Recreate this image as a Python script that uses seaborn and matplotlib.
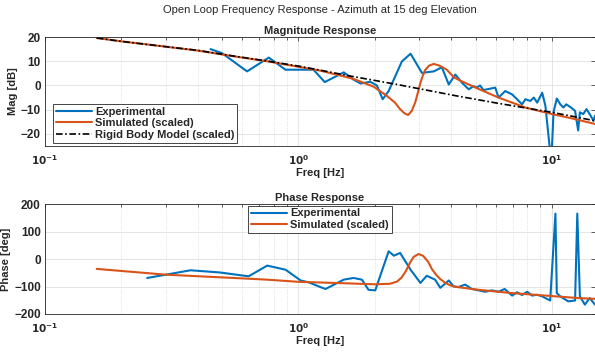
import numpy as np
import pandas as pd
import matplotlib
matplotlib.use("Agg")
import matplotlib.pyplot as plt
import seaborn as sns
from matplotlib.ticker import FixedLocator, FuncFormatter, LogLocator, NullFormatter

# ---------------- data ----------------
exp_mag_f = [0.45, 0.50, 0.627, 0.764, 0.889, 1.146, 1.27, 1.51, 1.65, 1.76, 1.92, 2.04, 2.15, 2.27,
             2.56, 2.77, 3.07, 3.42, 3.68, 3.92, 4.16, 4.42, 4.70, 4.91, 5.06, 5.21, 5.37, 5.98,
             6.16, 6.55, 6.97, 7.29, 7.63, 7.86, 8.23, 8.49, 8.75, 9.16, 9.43, 9.95, 10.15, 10.46,
             10.8, 11.1, 11.4, 11.9, 12.35, 12.7, 12.9, 13.3, 13.7, 14.1, 14.6, 14.8]
exp_mag_db = [15.0, 13.3, 5.8, 11.5, 6.5, 6.5, 1.4, 5.4, 2.4, 0.8, 1.5, 0.0, -5.7, -2.3,
              9.9, 13.1, 5.2, 5.8, 7.5, 0.4, 4.5, 1.1, -1.6, -0.3, -0.9, 0.0, -1.9, -0.9,
              -5.0, -2.3, -3.7, -5.7, -7.8, -5.7, -6.4, -5.0, -7.1, -3.0, -8.4, -32.0, -11.1, -5.4,
              -7.8, -9.1, -7.8, -9.1, -10.5, -18.6, -11.1, -11.8, -9.8, -11.8, -14.6, -12.5]

sim_mag_f = [0.16, 0.2, 0.3, 0.4, 0.55, 0.75, 1.0, 1.22, 1.45, 1.65, 1.98, 2.24, 2.4, 2.52, 2.62,
             2.71, 2.8, 2.89, 2.96, 3.03, 3.1, 3.17, 3.28, 3.42, 3.6, 3.85, 4.1, 4.35, 5.0, 6.16,
             7.85, 10.0, 12.0, 14.8]
sim_mag_db = [19.6, 18.2, 16.0, 14.4, 12.1, 10.0, 7.7, 6.1, 4.2, 2.7, -0.5, -4.4, -7.0, -9.8, -11.5,
              -12.2, -10.5, -7.0, -3.0, 1.1, 4.2, 6.5, 8.2, 8.9, 8.2, 6.5, 3.4, 2.0, -0.9, -5.0,
              -9.1, -11.8, -13.6, -15.9]

rb_mag_f = [0.16, 0.2, 0.3, 0.4, 0.55, 0.75, 1.0, 1.22, 1.6, 2.45, 4.2, 6.0, 8.0, 10.0, 12.0, 14.8]
rb_mag_db = [19.6, 18.2, 16.0, 14.5, 12.2, 10.1, 8.0, 6.3, 3.9, 0.4, -4.3, -7.2, -9.4, -11.1, -12.7, -14.6]

exp_ph_f = [0.253, 0.30, 0.375, 0.49, 0.636, 0.753, 0.89, 1.02, 1.10, 1.22, 1.28, 1.51, 1.65, 1.78,
            1.89, 2.01, 2.27, 2.38, 2.52, 2.77, 3.03, 3.21, 3.46, 3.63, 3.92, 4.1, 4.28, 4.55,
            4.83, 5.14, 5.46, 5.8, 6.16, 6.51, 6.97, 7.29, 7.63, 7.99, 8.36, 8.75, 9.16, 9.43,
            9.85, 10.33, 10.46, 10.8, 11.6, 12.35, 12.6, 12.9, 13.5, 14.1, 14.8]
exp_ph_deg = [-69, -57, -41, -49, -63, -24, -39, -78, -85, -102, -109, -75, -69, -75,
              -112, -114, 28, 12, 22, -39, -87, -61, -75, -105, -78, -100, -102, -93,
              -109, -114, -119, -114, -119, -109, -133, -121, -131, -119, -133, -130, -136, -142,
              -151, 165, -124, -136, -154, -151, 165, -136, -166, -142, -166]

sim_ph_f = [0.16, 0.3, 0.556, 0.75, 1.0, 1.5, 2.0, 2.3, 2.45, 2.55, 2.65, 2.75, 2.85, 2.98, 3.1,
            3.25, 3.37, 3.5, 3.63, 3.8, 4.0, 4.23, 5.14, 6.97, 9.43, 12.7, 14.8]
sim_ph_deg = [-36, -57, -69, -75, -83, -88, -92, -90, -82, -68, -45, -15, 8, 18, 12,
              -10, -38, -58, -73, -87, -97, -102, -112, -124, -133, -142, -145]

labels_mag = ["Experimental", "Simulated (scaled)", "Rigid Body Model (scaled)"]
labels_ph = ["Experimental", "Simulated (scaled)"]

# ---------------- style ----------------
sns.set_theme(style="white")
plt.rcParams["font.family"] = ["Liberation Sans", "DejaVu Sans"]
plt.rcParams["axes.linewidth"] = 0.6

BLUE = "#0072BD"
ORANGE = "#D95319"

fig = plt.figure(figsize=(5.95, 3.55), dpi=100)
ax1 = fig.add_axes([45 / 595, 1 - 146 / 355, 1 - 45 / 595, 109 / 355])
ax2 = fig.add_axes([45 / 595, 1 - 314 / 355, 1 - 45 / 595, 110 / 355])

df_mag = pd.concat([
    pd.DataFrame({"f": exp_mag_f, "v": exp_mag_db, "s": labels_mag[0]}),
    pd.DataFrame({"f": sim_mag_f, "v": sim_mag_db, "s": labels_mag[1]}),
    pd.DataFrame({"f": rb_mag_f, "v": rb_mag_db, "s": labels_mag[2]}),
])
df_ph = pd.concat([
    pd.DataFrame({"f": exp_ph_f, "v": exp_ph_deg, "s": labels_ph[0]}),
    pd.DataFrame({"f": sim_ph_f, "v": sim_ph_deg, "s": labels_ph[1]}),
])

sns.lineplot(data=df_mag[df_mag.s == labels_mag[0]], x="f", y="v", color=BLUE, lw=1.5,
             sort=False, estimator=None, ax=ax1, label=labels_mag[0])
sns.lineplot(data=df_mag[df_mag.s == labels_mag[1]], x="f", y="v", color=ORANGE, lw=1.5,
             sort=False, estimator=None, ax=ax1, label=labels_mag[1])
rb = sns.lineplot(data=df_mag[df_mag.s == labels_mag[2]], x="f", y="v", color="black", lw=1.2,
                  sort=False, estimator=None, ax=ax1, label=labels_mag[2])
ax1.lines[-1].set_dashes([4, 1.5, 1, 1.5])

sns.lineplot(data=df_ph[df_ph.s == labels_ph[0]], x="f", y="v", color=BLUE, lw=1.5,
             sort=False, estimator=None, ax=ax2, label=labels_ph[0])
sns.lineplot(data=df_ph[df_ph.s == labels_ph[1]], x="f", y="v", color=ORANGE, lw=1.5,
             sort=False, estimator=None, ax=ax2, label=labels_ph[1])


def fmt_log(v, pos):
    e = int(round(np.log10(v)))
    return r"$\mathbf{10^{%d}}$" % e


for ax, ylim, yt, ylab, title in [
    (ax1, (-25, 20), [-20, -10, 0, 10, 20], "Mag [dB]", "Magnitude Response"),
    (ax2, (-200, 200), [-200, -100, 0, 100, 200], "Phase [deg]", "Phase Response"),
]:
    ax.set_xscale("log")
    ax.set_xlim(0.1, 14.8)
    ax.set_ylim(*ylim)
    ax.yaxis.set_major_locator(FixedLocator(yt))
    ax.xaxis.set_major_locator(LogLocator(base=10, numticks=10))
    ax.xaxis.set_minor_locator(LogLocator(base=10, subs=np.arange(2, 10), numticks=20))
    ax.xaxis.set_major_formatter(FuncFormatter(fmt_log))
    ax.xaxis.set_minor_formatter(NullFormatter())
    ax.grid(True, which="major", color="#e0e0e0", lw=0.6, ls="-")
    ax.grid(True, which="minor", axis="x", color="#d4d4d4", lw=0.6, ls=":")
    ax.set_axisbelow(True)
    ax.tick_params(which="both", direction="in", top=True, right=True, length=3,
                   width=0.5, pad=3)
    ax.tick_params(axis="y", labelsize=8.5)
    ax.tick_params(axis="x", labelsize=7.5, pad=5)
    ax.tick_params(which="minor", length=1.8)
    for lab in ax.get_yticklabels():
        lab.set_fontweight("bold")
    ax.set_xlabel("Freq [Hz]", fontsize=8, fontweight="bold", labelpad=1)
    ax.set_ylabel(ylab, fontsize=8, fontweight="bold", labelpad=2)
    ax.set_title(title, fontsize=8, fontweight="bold", pad=2)
    for sp in ax.spines.values():
        sp.set_color("#262626")
        sp.set_linewidth(0.6)

leg1 = ax1.legend(loc="lower left", bbox_to_anchor=(0.015, 0.03), borderaxespad=0,
                  prop={"size": 8, "weight": "bold"}, frameon=True, fancybox=False,
                  edgecolor="#262626", framealpha=1, handlelength=3.2, handletextpad=0.3,
                  borderpad=0.25, labelspacing=0.15)
leg1.get_frame().set_linewidth(0.6)
leg2 = ax2.legend(loc="upper center", bbox_to_anchor=(0.5, 0.985), borderaxespad=0,
                  prop={"size": 8, "weight": "bold"}, frameon=True, fancybox=False,
                  edgecolor="#262626", framealpha=1, handlelength=3.2, handletextpad=0.3,
                  borderpad=0.25, labelspacing=0.15)
leg2.get_frame().set_linewidth(0.6)

fig.text(320 / 595, 1 - 10 / 355, "Open Loop Frequency Response - Azimuth at 15 deg Elevation",
         ha="center", va="center", fontsize=8, color="#262626")

fig.savefig("out.png", dpi=100)
